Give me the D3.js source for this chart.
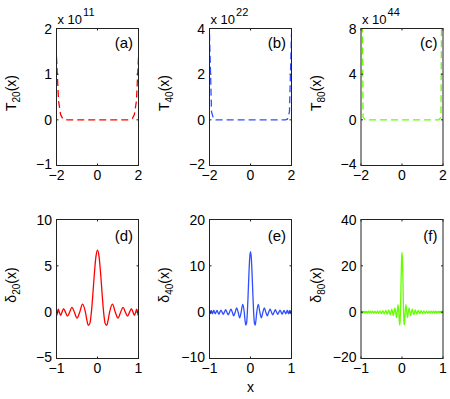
<!DOCTYPE html>
<html>
<head>
<meta charset="utf-8">
<script src="https://cdn.jsdelivr.net/npm/d3@7"></script>
<style>
  body { margin: 0; background: #fff; }
  svg text { font-family: "Liberation Sans", Arial, Helvetica, sans-serif; fill: #000; }
</style>
</head>
<body>
<div id="chart"></div>
<script>
// ---- data ----
// top row: T_n(x) on [-2, 2], scaled by 1e11, 1e22, 1e44
var xTop = [-2, -1.9, -1.8, -1.7, -1.6, -1.5, -1, -0.5, 0, 0.5, 1, 1.5, 1.6, 1.7, 1.8, 1.9, 2];
var t20 = [1.374, 0.416, 0.115, 0.0285, 0.0062, 0.0011, 0, 0, 0, 0, 0, 0.0011, 0.0062, 0.0285, 0.115, 0.416, 1.374];
var t40 = [3.774, 0.346, 0.0264, 0.0016, 0, 0, 0, 0, 0, 0, 0, 0, 0, 0.0016, 0.0264, 0.346, 3.774];
var t80 = [28.5, 0.24, 0.0014, 0, 0, 0, 0, 0, 0, 0, 0, 0, 0, 0, 0.0014, 0.24, 28.5];

// bottom row: delta_n(x) on [-1, 1]
var xD20 = [-1, -0.9972, -0.9888, -0.9749, -0.9556, -0.9309, -0.9010, -0.8660, -0.8262, -0.7818, -0.7331,
  -0.6802, -0.6235, -0.5633, -0.5, -0.4339, -0.3653, -0.2948, -0.2588, -0.2225, -0.1859, -0.1490, -0.1120,
  -0.0747, -0.0374, 0, 0.0374, 0.0747, 0.1120, 0.1490, 0.1859, 0.2225, 0.2588, 0.2948, 0.3653, 0.4339, 0.5,
  0.5633, 0.6235, 0.6802, 0.7331, 0.7818, 0.8262, 0.8660, 0.9010, 0.9309, 0.9556, 0.9749, 0.9888, 0.9972, 1];
var d20 = [0.318, 0, -0.322, 0, 0.333, 0, -0.353, 0, 0.385, 0, -0.434, 0, 0.511, 0, -0.637, 0, 0.871, 0,
  -0.870, -1.431, -1.211, 0, 2.010, 4.259, 6.02, 6.685, 6.02, 4.259, 2.010, 0, -1.211, -1.431, -0.870, 0,
  0.871, 0, -0.637, 0, 0.511, 0, -0.434, 0, 0.385, 0, -0.353, 0, 0.333, 0, -0.322, 0, 0.318];

var xD40 = [-1, -0.9993, -0.9971, -0.9934, -0.9883, -0.9817, -0.9738, -0.9643, -0.9534, -0.9412, -0.9275,
  -0.9126, -0.8962, -0.8785, -0.8596, -0.8394, -0.8180, -0.7954, -0.7715, -0.7466, -0.7205, -0.6935, -0.6654,
  -0.6363, -0.6062, -0.5753, -0.5437, -0.5111, -0.4777, -0.4437, -0.4091, -0.3738, -0.3380, -0.3017, -0.2650,
  -0.2279, -0.1904, -0.1526, -0.1337, -0.1147, -0.0956, -0.0765, -0.0574, -0.0383, -0.0192,
  0,
  0.0192, 0.0383, 0.0574, 0.0765, 0.0956, 0.1147, 0.1337, 0.1526, 0.1904, 0.2279, 0.2650, 0.3017, 0.3380,
  0.3738, 0.4091, 0.4437, 0.4777, 0.5111, 0.5437, 0.5753, 0.6062, 0.6363, 0.6654, 0.6935, 0.7205, 0.7466,
  0.7715, 0.7954, 0.8180, 0.8394, 0.8596, 0.8785, 0.8962, 0.9126, 0.9275, 0.9412, 0.9534, 0.9643, 0.9738,
  0.9817, 0.9883, 0.9934, 0.9971, 0.9993, 1];
var d40 = [0.318, 0, -0.319, 0, 0.322, 0, -0.327, 0, 0.334, 0, -0.343, 0, 0.355, 0, -0.370, 0, 0.389, 0,
  -0.413, 0, 0.442, 0, -0.478, 0, 0.525, 0, -0.586, 0, 0.666, 0, -0.778, 0, 0.942, 0, -1.201, 0, 1.672, 0,
  -1.684, -2.776, -2.354, 0, 3.92, 8.31, 11.75,
  13.05,
  11.75, 8.31, 3.92, 0, -2.354, -2.776, -1.684, 0, 1.672, 0, -1.201, 0, 0.942, 0, -0.778, 0, 0.666, 0,
  -0.586, 0, 0.525, 0, -0.478, 0, 0.442, 0, -0.413, 0, 0.389, 0, -0.370, 0, 0.355, 0, -0.343, 0, 0.334, 0,
  -0.327, 0, 0.322, 0, -0.319, 0, 0.318];

var xD80 = [-1, -0.9993, -0.9970, -0.9932, -0.9880, -0.9813, -0.9730, -0.9634, -0.9523, -0.9397, -0.9257,
  -0.9104, -0.8936, -0.8756, -0.8561, -0.8355, -0.8135, -0.7905, -0.7660, -0.7406, -0.7139, -0.6862, -0.6576,
  -0.6279, -0.5972, -0.5656, -0.5332, -0.5, -0.4661, -0.4314, -0.3961, -0.3782, -0.3602, -0.3420, -0.3237,
  -0.3053, -0.2868, -0.2682, -0.2494, -0.2306, -0.2117, -0.1927, -0.1737, -0.1545, -0.1353, -0.1161, -0.0968,
  -0.0775, -0.0678, -0.0581, -0.0485, -0.0388, -0.0291, -0.0194, -0.0097,
  0,
  0.0097, 0.0194, 0.0291, 0.0388, 0.0485, 0.0581, 0.0678, 0.0775, 0.0968, 0.1161, 0.1353, 0.1545, 0.1737,
  0.1927, 0.2117, 0.2306, 0.2494, 0.2682, 0.2868, 0.3053, 0.3237, 0.3420, 0.3602, 0.3782, 0.3961, 0.4314,
  0.4661, 0.5, 0.5332, 0.5656, 0.5972, 0.6279, 0.6576, 0.6862, 0.7139, 0.7406, 0.7660, 0.7905, 0.8135,
  0.8355, 0.8561, 0.8756, 0.8936, 0.9104, 0.9257, 0.9397, 0.9523, 0.9634, 0.9730, 0.9813, 0.9880, 0.9932,
  0.9970, 0.9993, 1];
var d80 = [0.318, -0.319, 0.319, -0.321, 0.322, -0.324, 0.327, -0.330, 0.334, -0.339, 0.344, -0.350, 0.356,
  -0.364, 0.372, -0.381, 0.391, -0.403, 0.416, -0.430, 0.446, -0.464, 0.484, -0.507, 0.533, -0.563, 0.597,
  -0.637, 0.683, -0.738, 0.804, 0, -0.884, 0, 0.983, 0, -1.110, 0, 1.276, 0, -1.504, 0, 1.833, 0, -2.352, 0,
  3.288, 0, -3.319, -5.474, -4.645, 0, 7.74, 16.42, 23.21,
  25.78,
  23.21, 16.42, 7.74, 0, -4.645, -5.474, -3.319, 0, 3.288, 0, -2.352, 0, 1.833, 0, -1.504, 0, 1.276, 0,
  -1.110, 0, 0.983, 0, -0.884, 0, 0.804, -0.738, 0.683, -0.637, 0.597, -0.563, 0.533, -0.507, 0.484, -0.464,
  0.446, -0.430, 0.416, -0.403, 0.391, -0.381, 0.372, -0.364, 0.356, -0.350, 0.344, -0.339, 0.334, -0.330,
  0.327, -0.324, 0.322, -0.321, 0.319, -0.319, 0.318];

// tick values
var xTicksTop = [-2, 0, 2];
var xTicksBottom = [-1, 0, 1];
var yTicksA = [-1, 0, 1, 2];
var yTicksB = [-2, 0, 2, 4];
var yTicksC = [-4, 0, 4, 8];
var yTicksD = [-5, 0, 5, 10];
var yTicksE = [-10, 0, 10, 20];
var yTicksF = [-20, 0, 20, 40];
var exponents = ['11', '22', '44'];
var letters = ['(a)', '(b)', '(c)', '(d)', '(e)', '(f)'];

var width = 450, height = 399;
var svg = d3.select('#chart').append('svg')
    .attr('width', width)
    .attr('height', height);

svg.append('rect').attr('width', width).attr('height', height).attr('fill', '#fff');

var red = '#ff0000', blue = '#2f4fff', green = '#66ff00';
var lefts = [56.5, 209.5, 361];
var plotW = 82;

var panels = [
    { x: xTop, y: t20, yTicks: yTicksA, xTicks: xTicksTop, color: red, dashed: true, sym: 'T', sub: '20', exp: exponents[0] },
    { x: xTop, y: t40, yTicks: yTicksB, xTicks: xTicksTop, color: blue, dashed: true, sym: 'T', sub: '40', exp: exponents[1] },
    { x: xTop, y: t80, yTicks: yTicksC, xTicks: xTicksTop, color: green, dashed: true, sym: 'T', sub: '80', exp: exponents[2] },
    { x: xD20, y: d20, yTicks: yTicksD, xTicks: xTicksBottom, color: red, dashed: false, sym: '\u03b4', sub: '20' },
    { x: xD40, y: d40, yTicks: yTicksE, xTicks: xTicksBottom, color: blue, dashed: false, sym: '\u03b4', sub: '40', xlabel: 'x' },
    { x: xD80, y: d80, yTicks: yTicksF, xTicks: xTicksBottom, color: green, dashed: false, sym: '\u03b4', sub: '80' }
];

var fmt = function(v) { return v < 0 ? '\u2212' + Math.abs(v) : String(v); };

panels.forEach(function(p, i) {
    var row = Math.floor(i / 3), col = i % 3;
    var left = lefts[col];
    var top = row === 0 ? 28.5 : 219.5;
    var h = row === 0 ? 137 : 139;

    var xScale = d3.scaleLinear()
        .domain([p.xTicks[0], p.xTicks[p.xTicks.length - 1]])
        .range([left, left + plotW]);
    var yScale = d3.scaleLinear()
        .domain([p.yTicks[0], p.yTicks[p.yTicks.length - 1]])
        .range([top + h, top]);

    var g = svg.append('g');

    // clip to the axes box
    var clipId = 'clip' + i;
    svg.append('clipPath').attr('id', clipId)
        .append('rect')
        .attr('x', left).attr('y', top)
        .attr('width', plotW).attr('height', h);

    var pts = p.x.map(function(xv, k) { return [xv, p.y[k]]; });
    var line = d3.line()
        .x(function(d) { return xScale(d[0]); })
        .y(function(d) { return yScale(d[1]); })
        .curve(p.dashed ? d3.curveLinear : d3.curveMonotoneX);

    g.append('path')
        .datum(pts)
        .attr('clip-path', 'url(#' + clipId + ')')
        .attr('fill', 'none')
        .attr('stroke', p.color)
        .attr('stroke-width', 1.3)
        .attr('stroke-dasharray', p.dashed ? '7,4' : null)
        .attr('d', line);

    // box
    g.append('rect')
        .attr('x', left).attr('y', top)
        .attr('width', plotW).attr('height', h)
        .attr('fill', 'none')
        .attr('stroke', '#222')
        .attr('stroke-width', 1);

    // inward ticks on all four sides
    var tl = 2;
    p.xTicks.forEach(function(t) {
        var xx = xScale(t);
        g.append('line').attr('x1', xx).attr('x2', xx).attr('y1', top + h).attr('y2', top + h - tl).attr('stroke', '#222');
        g.append('line').attr('x1', xx).attr('x2', xx).attr('y1', top).attr('y2', top + tl).attr('stroke', '#222');
        g.append('text')
            .attr('x', xx).attr('y', top + h + 14.5)
            .attr('text-anchor', 'middle')
            .attr('font-size', 14)
            .text(fmt(t));
    });
    p.yTicks.forEach(function(t, k) {
        var yy = yScale(t);
        g.append('line').attr('x1', left).attr('x2', left + tl).attr('y1', yy).attr('y2', yy).attr('stroke', '#222');
        g.append('line').attr('x1', left + plotW).attr('x2', left + plotW - tl).attr('y1', yy).attr('y2', yy).attr('stroke', '#222');
        g.append('text')
            .attr('x', left - 4.5).attr('y', yy + (k === 0 ? 3 : 5))
            .attr('text-anchor', 'end')
            .attr('font-size', 14)
            .text(fmt(t));
    });

    // y label like T_20(x)
    var lab = g.append('text')
        .attr('transform', 'translate(' + (left - 40.5) + ',' + (top + h / 2 - 4) + ') rotate(-90)')
        .attr('text-anchor', 'middle')
        .attr('font-size', 14);
    lab.append('tspan').text(p.sym);
    lab.append('tspan').attr('font-size', 10).attr('dy', 4).text(p.sub);
    lab.append('tspan').attr('dy', -4).text('(x)');

    // panel letter
    g.append('text')
        .attr('x', left + plotW - 5.5)
        .attr('y', top + (row === 0 ? 19 : 21.5))
        .attr('text-anchor', 'end')
        .attr('font-size', 15)
        .text(letters[i]);

    // exponent label
    if (p.exp) {
        var ex = g.append('text')
            .attr('x', left + 1).attr('y', top - 5)
            .attr('font-size', 13);
        ex.append('tspan').text('x 10');
        ex.append('tspan').attr('font-size', 11).attr('dx', 1).attr('dy', -8).text(p.exp);
    }

    if (p.xlabel) {
        g.append('text')
            .attr('x', left + plotW / 2).attr('y', top + h + 33)
            .attr('text-anchor', 'middle')
            .attr('font-size', 14)
            .text(p.xlabel);
    }
});
</script>
</body>
</html>
